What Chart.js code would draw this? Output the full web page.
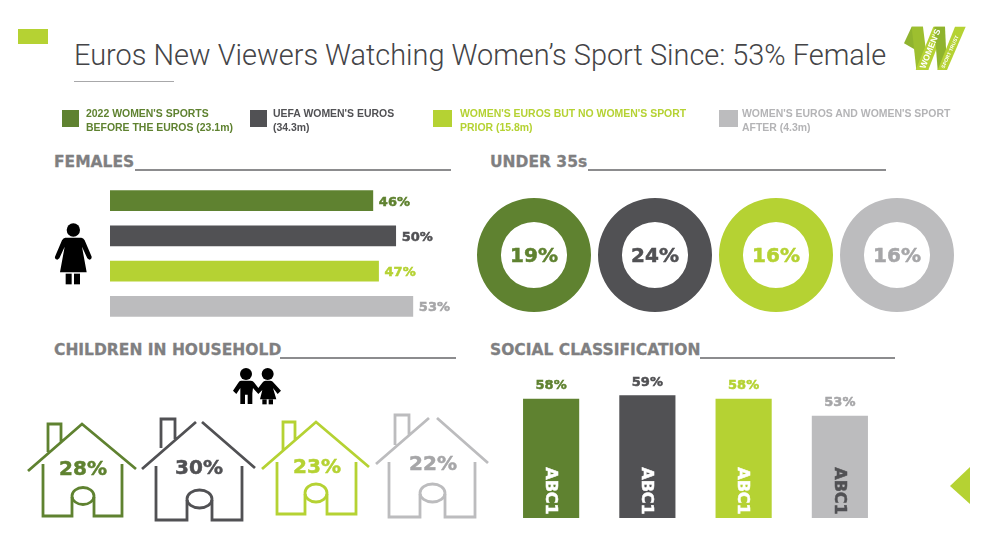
<!DOCTYPE html>
<html>
<head>
    <meta charset="utf-8">
    <title>Euros New Viewers</title>
    <script src="https://cdn.jsdelivr.net/npm/chart.js"></script>
    <style>
        * { margin: 0; padding: 0; }
        body { width: 990px; height: 550px; background: #fff; position: relative; overflow: hidden; font-family: "DejaVu Sans", sans-serif; }
        canvas, svg, .abs { position: absolute; }
        #title { left: 74px; top: 38px; font: 300 28.9px Roboto, sans-serif; color: #444447; white-space: nowrap; }
        .legend { font: bold 11px/14px "Liberation Sans", sans-serif; white-space: nowrap; transform: scaleX(.95); transform-origin: left top; }
        .head { font: bold 15.5px "DejaVu Sans", sans-serif; color: #7f7f81; white-space: nowrap; -webkit-text-stroke: .3px #7f7f81; }
        .rule { background: #8c8c8e; height: 2px; }
    </style>
</head>
<body>
    <div class="abs" style="left:18px;top:29px;width:30px;height:15px;background:#b5d233"></div>
    <div class="abs" id="title">Euros New Viewers Watching Women’s Sport Since: 53% Female</div>
    <div class="abs" style="left:74px;top:81px;width:100px;height:1px;background:#a8a8aa"></div>

    <div id="legendBox"></div>

    <div class="abs head" style="left:54px;top:153px">FEMALES</div>
    <div class="abs rule" style="left:135px;top:169px;width:316px"></div>
    <div class="abs head" style="left:490px;top:153px">UNDER 35s</div>
    <div class="abs rule" style="left:588px;top:169px;width:298px"></div>
    <div class="abs head" style="left:54px;top:341px">CHILDREN IN HOUSEHOLD</div>
    <div class="abs rule" style="left:280px;top:357px;width:176px"></div>
    <div class="abs head" style="left:490px;top:341px">SOCIAL CLASSIFICATION</div>
    <div class="abs rule" style="left:700px;top:357px;width:195px"></div>

    <canvas id="females" width="360" height="141" style="left:110px;top:183px"></canvas>
    <canvas id="ring0" width="114" height="114" style="left:477px;top:198px"></canvas>
    <canvas id="ring1" width="114" height="114" style="left:598px;top:198px"></canvas>
    <canvas id="ring2" width="114" height="114" style="left:719px;top:198px"></canvas>
    <canvas id="ring3" width="114" height="114" style="left:840px;top:198px"></canvas>
    <canvas id="social" width="385" height="158" style="left:503px;top:360px"></canvas>

    <svg width="990" height="550" style="left:0;top:0;pointer-events:none">
        <!-- woman -->
        <g transform="translate(50,215) scale(.3333)" fill="#000">
            <circle cx="70" cy="45" r="20"/>
            <path d="M46,68 L94,68 Q100,68 104,76 L125,125 Q126,133 118,134 L112,130 L96,95 L110,172 L30,172 L44,95 L28,130 L22,134 Q13,133 15,125 L36,76 Q40,68 46,68 Z"/>
            <rect x="47" y="176" width="18" height="32"/>
            <rect x="72" y="176" width="18" height="32"/>
        </g>
        <!-- children -->
        <g transform="translate(225,360) scale(.3333)" fill="#000">
            <circle cx="63" cy="42" r="18"/>
            <circle cx="128" cy="42" r="18"/>
            <path d="M48,62 L78,62 Q84,62 88,68 L100,84 L112,68 Q116,62 122,62 L136,62 Q142,62 146,68 L168,92 L158,102 L144,84 L154,118 L105,118 L112,90 L100,102 L84,84 L82,100 L82,132 L68,132 L68,104 L60,104 L60,132 L46,132 L46,84 L34,102 L24,92 L40,68 Q43,62 48,62 Z"/>
            <rect x="112" y="118" width="13" height="15"/>
            <rect x="131" y="118" width="13" height="15"/>
        </g>
        <!-- houses -->
        <g fill="none" stroke-width="2.8" stroke="#5f8230">
            <path d="M28,471 L82,424 L136,469 M43,464 V516 H72 V497 M122,464 V516 H94 V497 M48,452 V424 H61 V443"/>
            <ellipse cx="83" cy="496" rx="11" ry="8.5"/>
        </g>
        <g fill="none" stroke-width="2.8" stroke="#515154">
            <path d="M142,469 L196,422 M202,422 L255,468 M156,466 V520 H187 V500 M242,466 V520 H212 V500 M161,448 V419 H175 V439"/>
            <ellipse cx="199.500" cy="499" rx="12.500" ry="9"/>
        </g>
        <g fill="none" stroke-width="2.8" stroke="#b5d233">
            <path d="M262,469 L316,422 L369,467 M277,462 V514 H305 V494 M356,462 V514 H327 V494 M283,450 V422 H295 V440"/>
            <ellipse cx="316" cy="493" rx="11" ry="9"/>
        </g>
        <g fill="none" stroke-width="2.8" stroke="#bcbcbe">
            <path d="M376,464 L429,418 M437,418 L488,463 M389,462 V517 H420 V494 M475,462 V517 H445 V494 M395,445 V415 H409 V435"/>
            <ellipse cx="432.500" cy="493" rx="12.500" ry="9"/>
        </g>
        <g id="houseLabels" font-family="DejaVu Sans" font-weight="bold" font-size="20" text-anchor="middle" stroke-width=".5"></g>
        <!-- arrow + logo -->
        <polygon points="950,486 970,467 970,504" fill="#b5d233"/>
        <g transform="translate(895,15) scale(.3333)">
            <polygon points="27,85 50,35 84,35 74,112" fill="#8fb32e"/>
            <polygon points="50,35 84,35 100,165 64,165" fill="#9dbf2f"/>
            <polygon points="62,165 100,165 150,35 115,35" fill="#b5d233"/>
            <polygon points="118,35 150,35 156,165 128,165" fill="#8fb32e"/>
            <polygon points="128,165 156,165 212,35 180,35" fill="#b5d233"/>
            <text transform="translate(90,163) rotate(-68)" fill="#fff" font-family="Liberation Sans" font-weight="bold" font-size="26">WOMEN'S</text>
            <text transform="translate(148,161) rotate(-66)" fill="#fff" font-family="Liberation Sans" font-weight="bold" font-size="15">SPORT TRUST</text>
        </g>
    </svg>

<script>
    const legendLines = [
        ["2022 WOMEN'S SPORTS", "BEFORE THE EUROS (23.1m)"],
        ["UEFA WOMEN'S EUROS", "(34.3m)"],
        ["WOMEN'S EUROS BUT NO WOMEN'S SPORT", "PRIOR (15.8m)"],
        ["WOMEN'S EUROS AND WOMEN'S SPORT", "AFTER (4.3m)"]
    ];
    const femalesValues = [46, 50, 47, 53];
    const under35Values = [19, 24, 16, 16];
    const childrenValues = [28, 30, 23, 22];
    const abc1Values = [58, 59, 58, 53];
    const abc1Label = "ABC1";

    const barColors = ["#5f8230", "#515154", "#b5d233", "#bcbcbe"];
    const textColors = ["#5f8230", "#515154", "#b5d233", "#a6a6a8"];
    const legendTextColors = ["#5f8230", "#515154", "#b5d233", "#b4b4b6"];
    const abc1TextColors = ["#ffffff", "#ffffff", "#ffffff", "#515154"];

    const legendSquareX = [62, 250, 433, 719];
    const legendTextX = [86, 273, 460, 742];
    legendLines.forEach(function (lines, i) {
        const sq = document.createElement("div");
        sq.className = "abs";
        sq.style.cssText = "left:" + legendSquareX[i] + "px;top:110px;width:" + (i > 1 ? 19 : 17) + "px;height:17px;background:" + barColors[i];
        document.body.appendChild(sq);
        const tx = document.createElement("div");
        tx.className = "abs legend";
        tx.style.cssText = "left:" + legendTextX[i] + "px;top:106px;color:" + legendTextColors[i];
        tx.innerHTML = lines[0] + "<br>" + lines[1];
        document.body.appendChild(tx);
    });

    const houseLabelX = [83, 199, 317, 433];
    const houseLabelY = [475, 474, 473, 470];
    childrenValues.forEach(function (v, i) {
        const t = document.createElementNS("http://www.w3.org/2000/svg", "text");
        t.setAttribute("x", houseLabelX[i]);
        t.setAttribute("y", houseLabelY[i]);
        t.setAttribute("fill", textColors[i]);
        t.setAttribute("stroke", textColors[i]);
        t.textContent = v + "%";
        document.getElementById("houseLabels").appendChild(t);
    });

    Chart.defaults.animation = false;
    Chart.defaults.responsive = false;
    Chart.defaults.plugins.legend.display = false;
    Chart.defaults.plugins.tooltip.enabled = false;
    const labelFont = 'bold 13px "DejaVu Sans"';

    // fill plus a thin outline, the original type is a very heavy face
    function heavyText(ctx, text, x, y, color) {
        ctx.fillStyle = color;
        ctx.strokeStyle = color;
        ctx.lineWidth = 0.5;
        ctx.fillText(text, x, y);
        ctx.strokeText(text, x, y);
    }

    // value just past the end of each horizontal bar
    const sideLabels = {
        id: "sideLabels",
        afterDatasetsDraw(chart) {
            const ctx = chart.ctx;
            ctx.save();
            ctx.font = labelFont;
            ctx.textAlign = "left";
            ctx.textBaseline = "middle";
            chart.getDatasetMeta(0).data.forEach(function (bar, i) {
                heavyText(ctx, femalesValues[i] + "%", bar.x + 6, bar.y + 1.5, textColors[i]);
            });
            ctx.restore();
        }
    };

    // value on top of the column, plus ABC1 turned sideways inside it
    const columnLabels = {
        id: "columnLabels",
        afterDatasetsDraw(chart) {
            const ctx = chart.ctx;
            const bottom = chart.scales.y.bottom;
            chart.getDatasetMeta(0).data.forEach(function (bar, i) {
                ctx.save();
                ctx.font = labelFont;
                ctx.textAlign = "center";
                ctx.textBaseline = "bottom";
                heavyText(ctx, abc1Values[i] + "%", bar.x, bar.y - 7, textColors[i]);
                ctx.translate(bar.x - 1, bottom - 27);
                ctx.rotate(Math.PI / 2);
                ctx.font = 'bold 16px "DejaVu Sans"';
                ctx.textBaseline = "middle";
                heavyText(ctx, abc1Label, 0, 0, abc1TextColors[i]);
                ctx.restore();
            });
        }
    };

    const ringCenter = {
        id: "ringCenter",
        afterDatasetsDraw(chart) {
            const ctx = chart.ctx;
            const arc = chart.getDatasetMeta(0).data[0];
            const i = chart.options.ringIndex;
            ctx.save();
            ctx.font = 'bold 20px "DejaVu Sans"';
            ctx.textAlign = "center";
            ctx.textBaseline = "middle";
            heavyText(ctx, under35Values[i] + "%", arc.x, arc.y + 1.5, textColors[i]);
            ctx.restore();
        }
    };

    new Chart(document.getElementById("females"), {
        type: "bar",
        data: {
            labels: femalesValues.map(function (v, i) { return legendLines[i][0]; }),
            datasets: [{ data: femalesValues, backgroundColor: barColors, barThickness: 20 }]
        },
        options: {
            indexAxis: "y",
            scales: {
                x: { display: false, min: 0, max: 63 },
                y: { display: false }
            }
        },
        plugins: [sideLabels]
    });

    // every ring is closed in the original, the number only sits in the middle
    under35Values.forEach(function (v, i) {
        new Chart(document.getElementById("ring" + i), {
            type: "doughnut",
            data: {
                labels: [legendLines[i][0]],
                datasets: [{ data: [v], backgroundColor: [barColors[i]], borderWidth: 0 }]
            },
            options: { cutout: "58%", ringIndex: i },
            plugins: [ringCenter]
        });
    });

    new Chart(document.getElementById("social"), {
        type: "bar",
        data: {
            labels: abc1Values.map(function (v, i) { return legendLines[i][0]; }),
            datasets: [{ data: abc1Values, backgroundColor: barColors, barThickness: 55.5 }]
        },
        options: {
            scales: {
                x: { display: false },
                y: { display: false, min: 23, max: 69.5 }
            }
        },
        plugins: [columnLabels]
    });
</script>
</body>
</html>
